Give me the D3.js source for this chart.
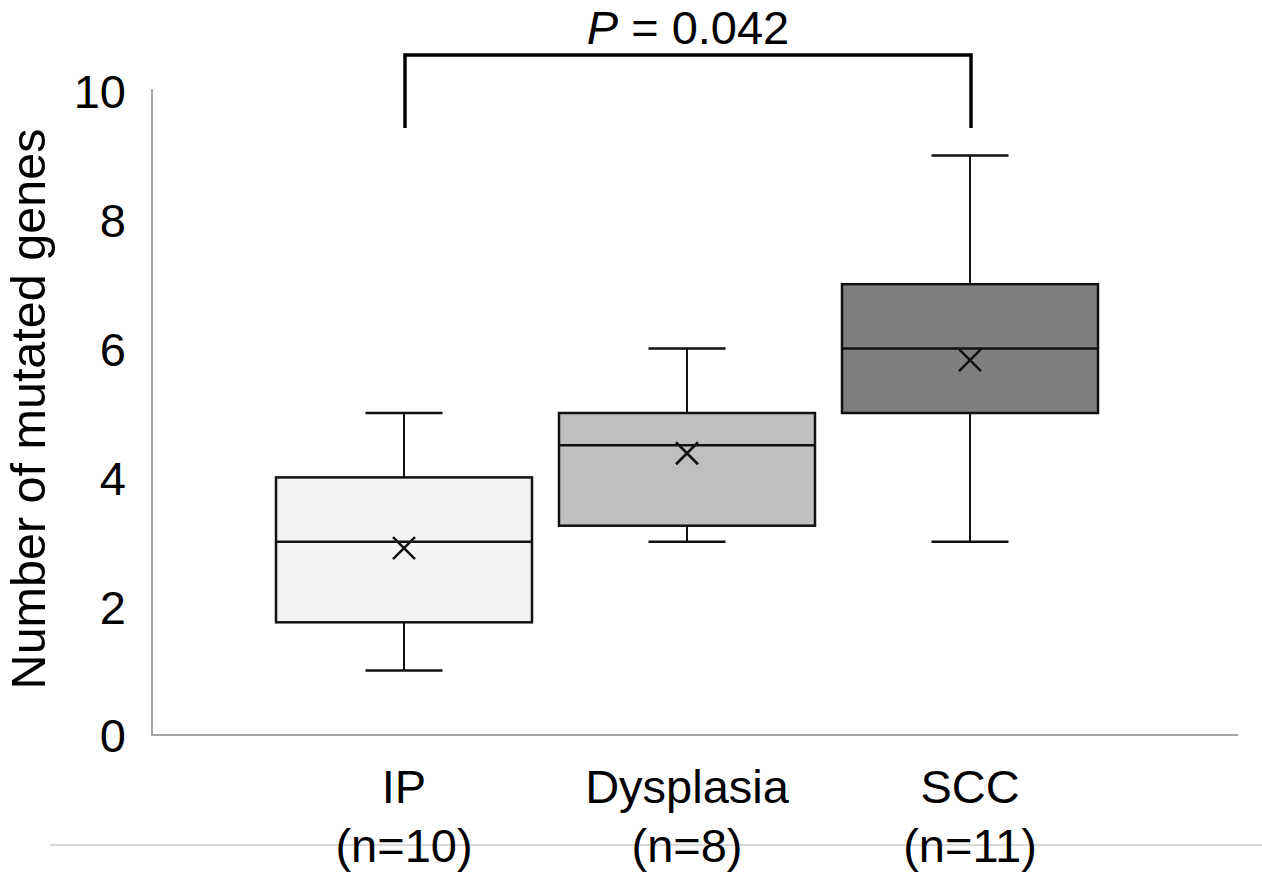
<!DOCTYPE html>
<html>
<head>
<meta charset="utf-8">
<script src="https://cdn.jsdelivr.net/npm/d3@7"></script>
<style>
  html, body { margin: 0; padding: 0; background: #fff; }
  svg { display: block; font-family: "Liberation Sans", Arial, sans-serif; }
</style>
</head>
<body>
<svg id="chart" width="1262" height="872"></svg>
<script>
// ---- data ----
const categories = ["IP", "Dysplasia", "SCC"];
const sampleSizes = ["(n=10)", "(n=8)", "(n=11)"];
const whiskerLow = [1, 3, 3];
const q1 = [1.75, 3.25, 5];
const medians = [3, 4.5, 6];
const q3 = [4, 5, 7];
const whiskerHigh = [5, 6, 9];
const means = [2.9, 4.375, 5.82];
const fills = ["#f2f2f2", "#bfbfbf", "#7f7f7f"];
const yTicks = [0, 2, 4, 6, 8, 10];
const yLabel = "Number of mutated genes";
const pValueText = "0.042";
const comparison = ["IP", "SCC"];

// ---- layout ----
const svg = d3.select("#chart");
const y = d3.scaleLinear().domain([0, 10]).range([735, 91]);
const x = d3.scalePoint().domain(categories).range([404, 970]);
const boxW = 256, capW = 77, markR = 11;
const fs = 47;

// axes lines
svg.append("line").attr("x1", 152).attr("x2", 152).attr("y1", 89).attr("y2", y(0))
  .attr("stroke", "#a6a6a6").attr("stroke-width", 2);
svg.append("line").attr("x1", 151).attr("x2", 1238).attr("y1", y(0)).attr("y2", y(0))
  .attr("stroke", "#a6a6a6").attr("stroke-width", 2);
// faint bottom rule
svg.append("line").attr("x1", 50).attr("x2", 1262).attr("y1", 845).attr("y2", 845)
  .attr("stroke", "#d9d9d9").attr("stroke-width", 2);

// y tick labels via axis
const yAxis = d3.axisLeft(y).tickValues(yTicks).tickSize(0).tickPadding(0).tickFormat(d3.format("d"));
const gy = svg.append("g").attr("transform", "translate(126,0)").call(yAxis);
gy.select(".domain").remove();
gy.selectAll("text").attr("font-size", fs).attr("fill", "#000")
  .attr("font-family", "'Liberation Sans', Arial, sans-serif").attr("dy", "0.36em");

// y label
svg.append("text").attr("transform", "translate(45,409) rotate(-90)")
  .attr("text-anchor", "middle").attr("font-size", 48.5).attr("fill", "#000").text(yLabel);

// category labels
categories.forEach((c, i) => {
  svg.append("text").attr("x", x(c)).attr("y", 803).attr("text-anchor", "middle")
    .attr("font-size", fs).attr("fill", "#000").text(c);
  svg.append("text").attr("x", x(c)).attr("y", 862).attr("text-anchor", "middle")
    .attr("font-size", fs).attr("fill", "#000").text(sampleSizes[i]);
});

// boxes
const g = svg.append("g");
categories.forEach((c, i) => {
  const cx = x(c);
  g.append("line").attr("x1", cx).attr("x2", cx).attr("y1", y(whiskerHigh[i])).attr("y2", y(q3[i]))
    .attr("stroke", "#111").attr("stroke-width", 2);
  g.append("line").attr("x1", cx).attr("x2", cx).attr("y1", y(q1[i])).attr("y2", y(whiskerLow[i]))
    .attr("stroke", "#111").attr("stroke-width", 2);
  g.append("line").attr("x1", cx - capW / 2).attr("x2", cx + capW / 2)
    .attr("y1", y(whiskerHigh[i])).attr("y2", y(whiskerHigh[i])).attr("stroke", "#111").attr("stroke-width", 2.5);
  g.append("line").attr("x1", cx - capW / 2).attr("x2", cx + capW / 2)
    .attr("y1", y(whiskerLow[i])).attr("y2", y(whiskerLow[i])).attr("stroke", "#111").attr("stroke-width", 2.5);
  g.append("rect").attr("x", cx - boxW / 2).attr("width", boxW)
    .attr("y", y(q3[i])).attr("height", y(q1[i]) - y(q3[i]))
    .attr("fill", fills[i]).attr("stroke", "#111").attr("stroke-width", 2.5);
  g.append("line").attr("x1", cx - boxW / 2).attr("x2", cx + boxW / 2)
    .attr("y1", y(medians[i])).attr("y2", y(medians[i])).attr("stroke", "#111").attr("stroke-width", 2.5);
  const my = y(means[i]);
  g.append("path")
    .attr("d", `M${cx - markR},${my - markR}L${cx + markR},${my + markR}M${cx - markR},${my + markR}L${cx + markR},${my - markR}`)
    .attr("stroke", "#111").attr("stroke-width", 2.5).attr("fill", "none");
});

// significance bracket
const bx1 = x(comparison[0]) + 1, bx2 = x(comparison[1]) + 1;
svg.append("path")
  .attr("d", `M${bx1},128V55H${bx2}V128`)
  .attr("fill", "none").attr("stroke", "#000").attr("stroke-width", 3.5);
const pt = svg.append("text").attr("x", (bx1 + bx2) / 2).attr("y", 44).attr("text-anchor", "middle")
  .attr("font-size", fs).attr("fill", "#000");
pt.append("tspan").attr("font-style", "italic").text("P");
pt.append("tspan").text(" = " + pValueText);
</script>
</body>
</html>
